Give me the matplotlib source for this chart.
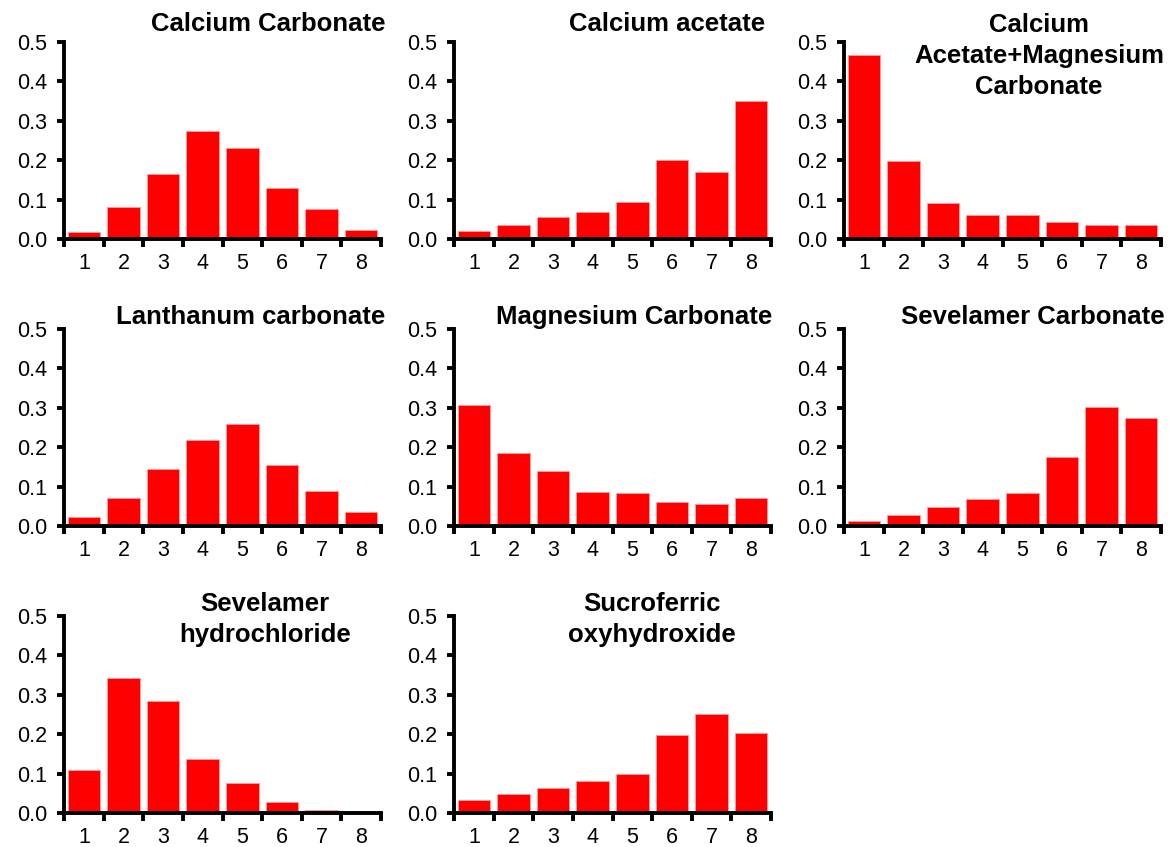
import matplotlib
matplotlib.use("Agg")
import matplotlib.pyplot as plt
from matplotlib.ticker import FixedLocator, NullFormatter

plt.rcParams['font.family'] = ['Liberation Sans', 'DejaVu Sans']

# ---------------- data ----------------
categories = [1, 2, 3, 4, 5, 6, 7, 8]
titles = [
    "Calcium Carbonate",
    "Calcium acetate",
    "Calcium\nAcetate+Magnesium\nCarbonate",
    "Lanthanum carbonate",
    "Magnesium Carbonate",
    "Sevelamer Carbonate",
    "Sevelamer\nhydrochloride",
    "Sucroferric\noxyhydroxide",
]
calcium_carbonate = [0.017, 0.080, 0.164, 0.275, 0.232, 0.129, 0.075, 0.023]
calcium_acetate = [0.020, 0.036, 0.055, 0.068, 0.094, 0.201, 0.169, 0.349]
calcium_acetate_mg = [0.467, 0.199, 0.091, 0.060, 0.060, 0.043, 0.036, 0.035]
lanthanum_carbonate = [0.023, 0.071, 0.144, 0.218, 0.259, 0.155, 0.088, 0.036]
magnesium_carbonate = [0.308, 0.186, 0.140, 0.086, 0.084, 0.062, 0.057, 0.070]
sevelamer_carbonate = [0.013, 0.028, 0.047, 0.068, 0.084, 0.175, 0.303, 0.275]
sevelamer_hcl = [0.109, 0.342, 0.283, 0.136, 0.077, 0.028, 0.008, 0.002]
sucroferric = [0.033, 0.047, 0.064, 0.080, 0.100, 0.198, 0.251, 0.203]
yticks = [0.0, 0.1, 0.2, 0.3, 0.4, 0.5]
ytick_labels = ["0.0", "0.1", "0.2", "0.3", "0.4", "0.5"]

series = [calcium_carbonate, calcium_acetate, calcium_acetate_mg,
          lanthanum_carbonate, magnesium_carbonate, sevelamer_carbonate,
          sevelamer_hcl, sucroferric]

# ---------------- layout ----------------
W, H = 1169, 847
fig = plt.figure(figsize=(W / 100, H / 100), dpi=100)

col_left = [64, 454, 844]
ax_w = 317
row_top = [42, 329, 616]
ax_h = 197
title_dy = [30, 24, 24]          # px above axes top (cap top)
title_xc = [0.643, 0.672, 0.615, 0.59, 0.569, 0.596, 0.634, 0.624]

LW = 2.8
for i, vals in enumerate(series):
    r, c = divmod(i, 3)
    left = col_left[c] / W
    bottom = 1 - (row_top[r] + ax_h) / H
    ax = fig.add_axes([left, bottom, ax_w / W, ax_h / H])
    ax.bar(categories, vals, width=0.82, color='#ff0000',
           edgecolor='#ff9a9a', linewidth=0.6, zorder=2)
    ax.set_xlim(0.5, 8.5)
    ax.set_ylim(0, 0.5)
    for s in ('top', 'right'):
        ax.spines[s].set_visible(False)
    for s in ('left', 'bottom'):
        ax.spines[s].set_linewidth(LW)
        ax.spines[s].set_zorder(3)
    ax.set_yticks(yticks)
    ax.set_yticklabels(ytick_labels)
    ax.set_xticks(categories)
    ax.set_xticklabels([str(k) for k in categories])
    ax.xaxis.set_minor_locator(FixedLocator([k + 0.5 for k in [0] + categories]))
    ax.xaxis.set_minor_formatter(NullFormatter())
    ax.tick_params(axis='x', which='major', length=0, pad=10, labelsize=15.5)
    ax.tick_params(axis='x', which='minor', length=6, width=LW, direction='out')
    ax.tick_params(axis='y', which='major', length=5, width=LW, pad=7, labelsize=15.5)
    ax.patch.set_visible(False)

    y_title = 1 + title_dy[r] / ax_h
    if r == 0 and '\n' in titles[i]:
        y_title -= 1 / ax_h
    ax.text(title_xc[i], y_title, titles[i], transform=ax.transAxes,
            ha='center', va='top', fontsize=18.5, fontweight='bold',
            multialignment='center', linespacing=1.38)

fig.savefig("out.png", dpi=100)
